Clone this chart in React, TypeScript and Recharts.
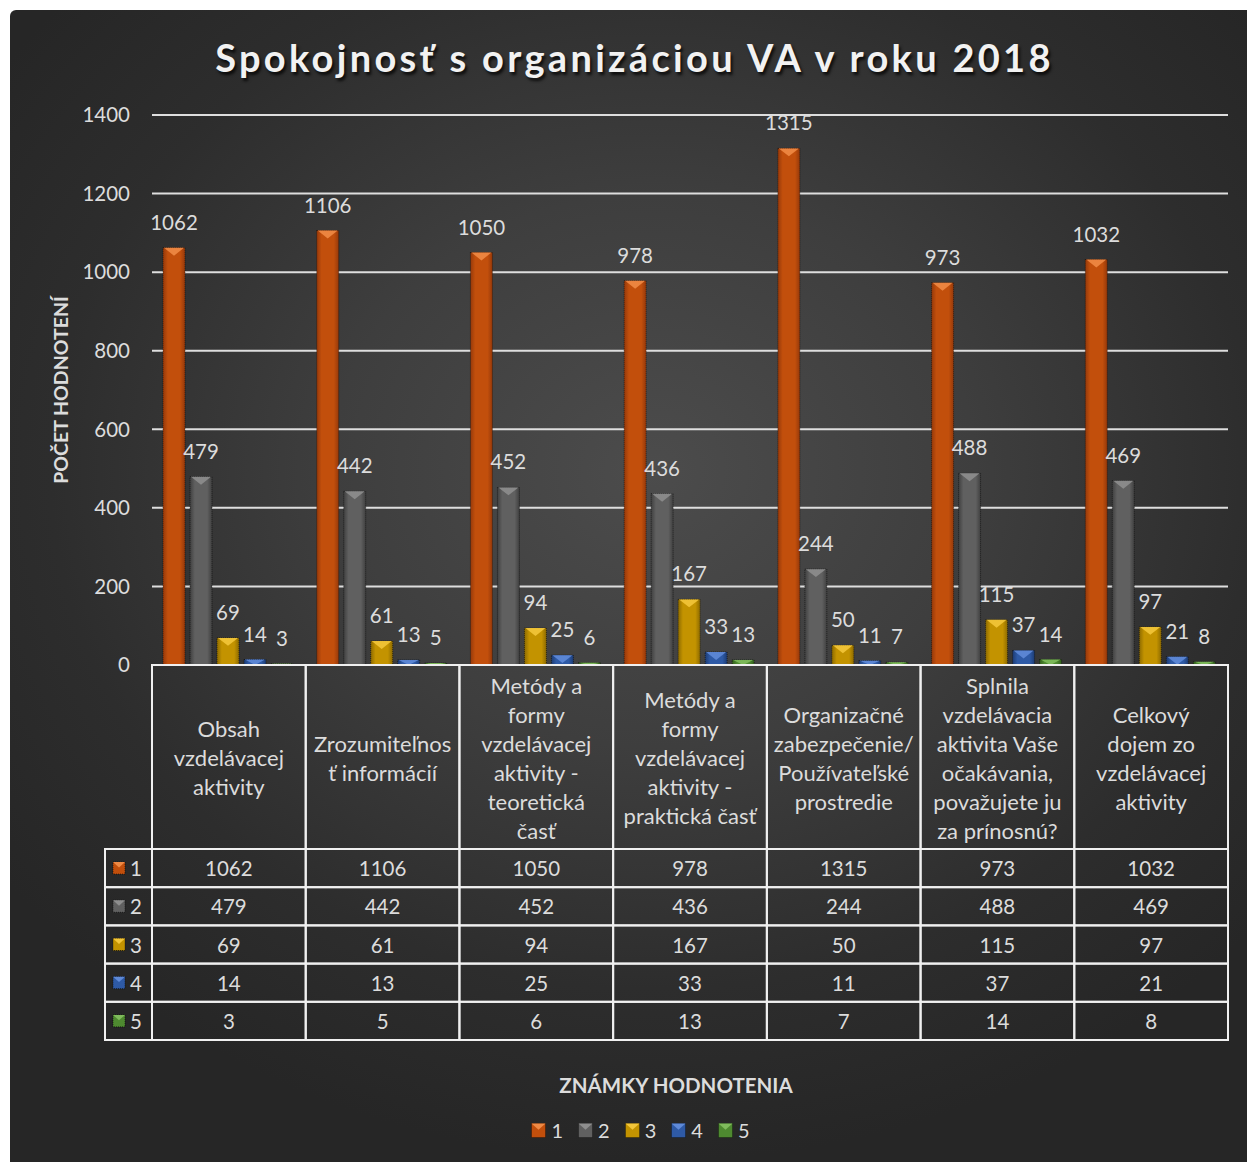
import React from 'react';
import { BarChart, Bar, XAxis, YAxis, CartesianGrid, LabelList, Legend } from 'recharts';

const categories = [
  'Obsah\nvzdelávacej\naktivity',
  'Zrozumiteľnos\nť informácií',
  'Metódy a\nformy\nvzdelávacej\naktivity -\nteoretická\nčasť',
  'Metódy a\nformy\nvzdelávacej\naktivity -\npraktická časť',
  'Organizačné\nzabezpečenie/\nPoužívateľské\nprostredie',
  'Splnila\nvzdelávacia\naktivita Vaše\nočakávania,\npovažujete ju\nza prínosnú?',
  'Celkový\ndojem zo\nvzdelávacej\naktivity',
];
const grade1 = [1062, 1106, 1050, 978, 1315, 973, 1032];
const grade2 = [479, 442, 452, 436, 244, 488, 469];
const grade3 = [69, 61, 94, 167, 50, 115, 97];
const grade4 = [14, 13, 25, 33, 11, 37, 21];
const grade5 = [3, 5, 6, 13, 7, 14, 8];
const seriesNames = ['1', '2', '3', '4', '5'];
const seriesKeys = ['g1', 'g2', 'g3', 'g4', 'g5'];
const seriesValues = [grade1, grade2, grade3, grade4, grade5];
const yTicks = [0, 200, 400, 600, 800, 1000, 1200, 1400];
const chartTitle = 'Spokojnosť s organizáciou VA v roku 2018';
const yAxisTitle = 'POČET HODNOTENÍ';
const xAxisTitle = 'ZNÁMKY HODNOTENIA';

const data = categories.map((c, i) => {
  const row: any = { name: c };
  seriesKeys.forEach((k, s) => (row[k] = seriesValues[s][i]));
  return row;
});

const COLORS = [
  { body: '#c24f0c', light: '#ef8a45', dark: '#96390a' },
  { body: '#606060', light: '#8e8e8e', dark: '#404040' },
  { body: '#c39300', light: '#f3c63a', dark: '#8e6b00' },
  { body: '#2e5aa6', light: '#5f8ad8', dark: '#1d3c74' },
  { body: '#4e8a30', light: '#7fbb5c', dark: '#33601d' },
];

const FONT = 'Lato, "Open Sans", sans-serif';
const TXT = '#dcdcdc';
const LINE = '#f0f0f0';
const CHART_W = 1237;
const CHART_H = 1152;
const MARGIN = { top: 105, right: 19, left: 0, bottom: 12 };
const Y_W = 142;
const PLOT_W = CHART_W - MARGIN.left - MARGIN.right - Y_W;
const BAND = PLOT_W / categories.length;
const HEADER_H = 184;
const ROW_H = 38.2;
const LEFT_COL = 47;

const makeShape = (si: number) => (props: any) => {
  const { x, y, width, height } = props;
  if (!height || height <= 0) return <g />;
  const c = COLORS[si];
  const th = Math.min(width * 0.36, height);
  return (
    <g>
      <rect x={x} y={y} width={width} height={height} fill={`url(#barGrad${si})`} stroke="rgba(0,0,0,0.55)" strokeWidth={1} strokeDasharray="1 1" />
      <polygon points={`${x + 1},${y} ${x + width - 1},${y} ${x + width / 2},${y + th}`} fill={c.light} opacity={0.9} />
    </g>
  );
};

const Icon = ({ si, x, y, size }: { si: number; x: number; y: number; size: number }) => {
  const c = COLORS[si];
  return (
    <g>
      <rect x={x} y={y} width={size} height={size} fill={c.body} stroke="rgba(0,0,0,0.6)" strokeWidth={1} strokeDasharray="1 1" />
      <polygon points={`${x},${y} ${x + size},${y} ${x + size / 2},${y + size * 0.45}`} fill={c.light} />
    </g>
  );
};

const TableTick = (props: any) => {
  const { x, y, payload } = props;
  const i = payload.index;
  const left = x - BAND / 2;
  const lines = String(categories[i]).split('\n');
  const lh = 29;
  const cy = y + HEADER_H / 2;
  const startY = cy - ((lines.length - 1) * lh) / 2;
  const els: any[] = [];
  els.push(<rect key="h" x={left} y={y} width={BAND} height={HEADER_H} fill="none" stroke={LINE} strokeWidth={2} />);
  els.push(
    <text key="ht" x={x} y={startY} textAnchor="middle" dominantBaseline="central" fill={TXT} fontSize={22} fontFamily={FONT}>
      {lines.map((l, k) => (
        <tspan key={k} x={x} y={startY + k * lh}>{l}</tspan>
      ))}
    </text>
  );
  seriesValues.forEach((vals, s) => {
    const ry = y + HEADER_H + s * ROW_H;
    els.push(<rect key={'r' + s} x={left} y={ry} width={BAND} height={ROW_H} fill="none" stroke={LINE} strokeWidth={2} />);
    els.push(
      <text key={'t' + s} x={x} y={ry + ROW_H / 2} textAnchor="middle" dominantBaseline="central" fill={TXT} fontSize={20.5} fontFamily={FONT}>
        {vals[i]}
      </text>
    );
    if (i === 0) {
      els.push(<rect key={'l' + s} x={left - LEFT_COL} y={ry} width={LEFT_COL} height={ROW_H} fill="none" stroke={LINE} strokeWidth={2} />);
      els.push(<Icon key={'i' + s} si={s} x={left - LEFT_COL + 8} y={ry + ROW_H / 2 - 6} size={12} />);
      els.push(
        <text key={'n' + s} x={left - LEFT_COL + 25} y={ry + ROW_H / 2} dominantBaseline="central" fill={TXT} fontSize={20.5} fontFamily={FONT}>
          {seriesNames[s]}
        </text>
      );
    }
  });
  return <g>{els}</g>;
};

const LegendContent = () => (
  <div style={{ height: 40, display: 'flex', justifyContent: 'center', alignItems: 'center', paddingLeft: 58 }}>
    {seriesNames.map((n, s) => (
      <div key={n} style={{ display: 'flex', alignItems: 'center', marginRight: 15 }}>
        <svg width={15} height={15} style={{ marginRight: 5 }}>
          <Icon si={s} x={0.5} y={0.5} size={14} />
        </svg>
        <span style={{ color: TXT, fontSize: 20, fontFamily: FONT }}>{n}</span>
      </div>
    ))}
  </div>
);

export default function App() {
  return (
    <div style={{ position: 'relative', width: 1247, height: 1162, background: '#ffffff', overflow: 'hidden' }}>
      <style>{'body{margin:0;}'}</style>
      <div
        style={{
          position: 'absolute',
          left: 10,
          top: 10,
          width: CHART_W,
          height: CHART_H,
          borderRadius: '6px 0 0 0',
          background: 'radial-gradient(ellipse 65% 60% at 52% 40%, #4c4c4c 0%, #3e3e3e 40%, #2d2d2d 75%, #262626 100%)',
        }}
      >
        <div
          style={{
            position: 'absolute',
            top: 26,
            left: 6,
            width: CHART_W,
            textAlign: 'center',
            fontFamily: FONT,
            fontWeight: 700,
            fontSize: 38,
            letterSpacing: 3.3,
            lineHeight: '42px',
            color: '#f2f2f2',
            textShadow: '2px 3px 3px rgba(0,0,0,0.75)',
          }}
        >
          {chartTitle}
        </div>
        <BarChart width={CHART_W} height={CHART_H} data={data} margin={MARGIN} barCategoryGap={11} barGap={5}>
          <defs>
            {COLORS.map((c, s) => (
              <linearGradient key={s} id={`barGrad${s}`} x1="0" y1="0" x2="1" y2="0">
                <stop offset="0%" stopColor={c.dark} />
                <stop offset="22%" stopColor={c.body} />
                <stop offset="50%" stopColor={c.body} />
                <stop offset="78%" stopColor={c.body} />
                <stop offset="100%" stopColor={c.dark} />
              </linearGradient>
            ))}
          </defs>
          <CartesianGrid vertical={false} stroke="#dedede" strokeWidth={2} />
          <YAxis
            width={Y_W}
            domain={[0, 1400]}
            ticks={yTicks}
            axisLine={false}
            tickLine={false}
            tickSize={0}
            tickMargin={22}
            tick={{ fill: TXT, fontSize: 20.5, fontFamily: FONT }}
            label={{
              position: 'insideLeft',
              content: (p: any) => {
                const vb = p.viewBox || {};
                const cx = 50;
                const cy = (vb.y ?? 105) + (vb.height ?? 550) / 2;
                return (
                  <text x={cx} y={cy} transform={`rotate(-90 ${cx} ${cy})`} textAnchor="middle" dominantBaseline="central" fill={TXT} fontWeight={700} fontSize={19.5} fontFamily={FONT}>
                    {yAxisTitle}
                  </text>
                );
              },
            }}
          />
          <XAxis
            dataKey="name"
            height={445}
            interval={0}
            axisLine={false}
            tickLine={false}
            tickSize={0}
            tickMargin={0}
            tick={<TableTick />}
            label={{
              position: 'insideBottom',
              content: (p: any) => {
                const vb = p.viewBox || {};
                const cx = (vb.x ?? 142) + (vb.width ?? PLOT_W) / 2 - 14;
                const cy = (vb.y ?? 655) + (vb.height ?? 445) - 25;
                return (
                  <text x={cx} y={cy} textAnchor="middle" dominantBaseline="central" fill={TXT} fontWeight={700} fontSize={20.5} fontFamily={FONT}>
                    {xAxisTitle}
                  </text>
                );
              },
            }}
          />
          <Legend verticalAlign="bottom" content={<LegendContent />} />
          {seriesKeys.map((k, s) => (
            <Bar key={k} dataKey={k} name={seriesNames[s]} fill={COLORS[s].body} shape={makeShape(s)} isAnimationActive={false}>
              <LabelList dataKey={k} position="top" offset={18} fill={TXT} fontSize={20.5} fontFamily={FONT} />
            </Bar>
          ))}
        </BarChart>
      </div>
    </div>
  );
}
